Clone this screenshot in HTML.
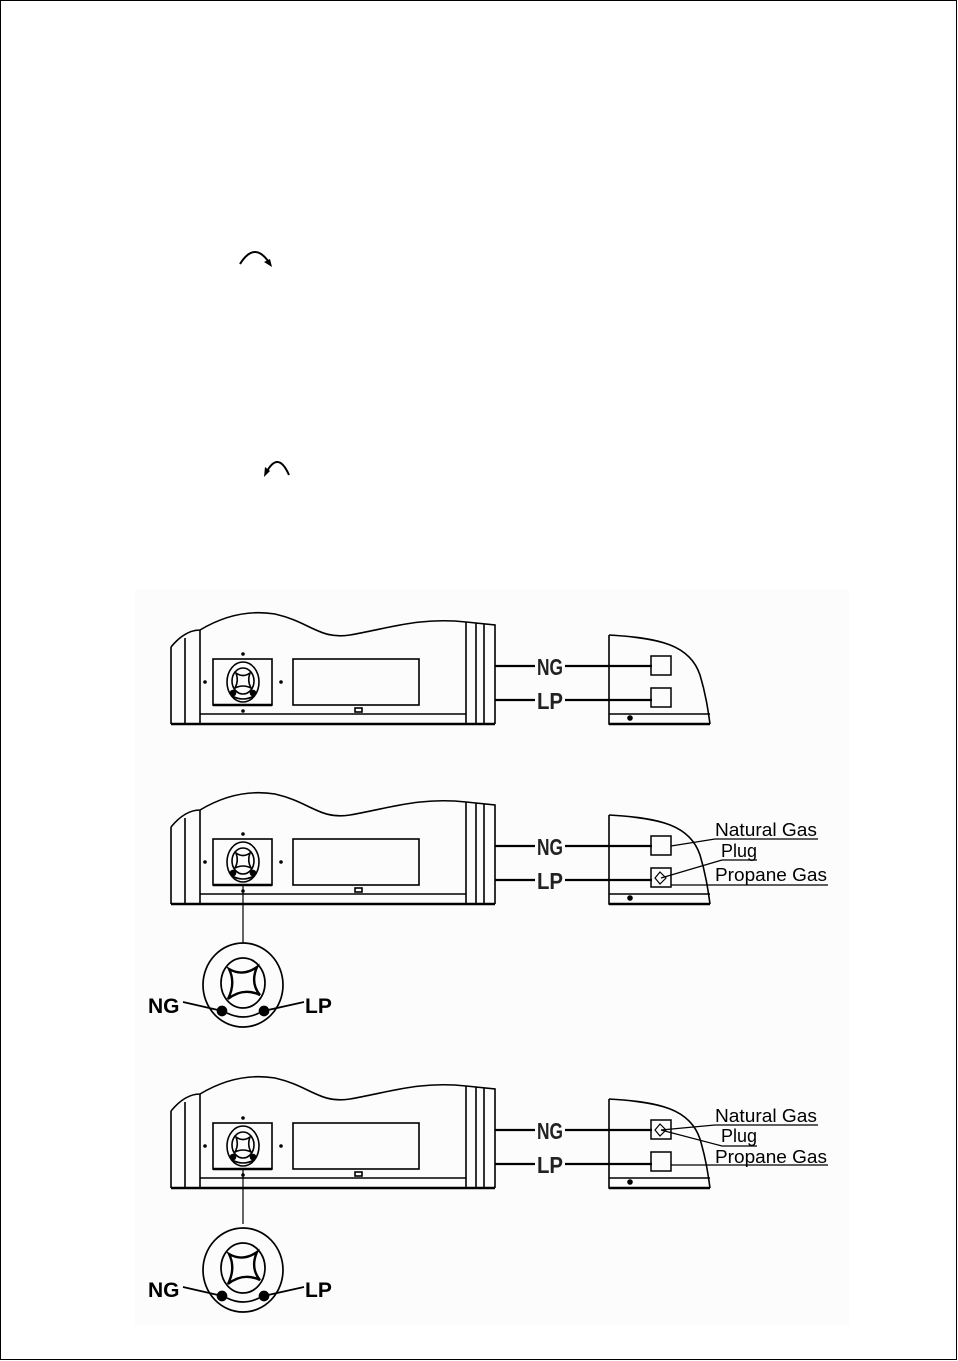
<!DOCTYPE html>
<html><head><meta charset="utf-8"><style>
html,body{margin:0;padding:0;background:#fff;}
svg{display:block;}
text{font-family:"Liberation Sans",sans-serif;}
</style></head><body>
<svg width="958" height="1361" viewBox="0 0 958 1361" xmlns="http://www.w3.org/2000/svg">
<rect x="0.5" y="0.5" width="956" height="1359" fill="#fff" stroke="#000" stroke-width="1"/>
<path d="M240,264 Q255,240 270,264" fill="none" stroke="#000" stroke-width="2"/>
<path d="M272,267 L264,262 L270,259 Z" fill="#000"/>
<path d="M289,475 Q278,450 266,473" fill="none" stroke="#000" stroke-width="2"/>
<path d="M264,477 L265,467 L270,471 Z" fill="#000"/>
<rect x="135" y="589" width="714" height="737" fill="#fcfcfc"/>
<defs>
<g id="unit" fill="none" stroke="#000" stroke-width="1.6">
  <path d="M171,647 L171,724 M185,638 L185,724 M200,630 L200,724"/>
  <path d="M171,647 Q185,630 200,630 C225,615 250,610 275,614 C310,622 320,640 350,635 C390,628 420,617 466,622"/>
  <path d="M466,622 L495,625 L495,724 M466,622 L466,724 M476,623 L476,724 M484,624 L484,724"/>
  <path d="M171,724 L495,724" stroke-width="2.4"/>
  <path d="M200,714 L466,714"/>
  <rect x="213" y="659" width="59" height="46"/>
  <path d="M213,705 L272,705" stroke-width="2.6"/>
  <rect x="293" y="659" width="126" height="46"/>
  <rect x="355" y="708" width="7" height="4"/>
  <ellipse cx="243" cy="682" rx="16" ry="20"/>
  <ellipse cx="243" cy="681" rx="11" ry="13"/>
  <path d="M236,673 Q243,678 250,673 Q247,681 251,688 Q243,684 235,688 Q239,681 236,673 Z"/>
  <path d="M232,696 Q243,702 254,696"/>
  <circle cx="233" cy="693" r="2.5" fill="#000"/><circle cx="253" cy="693" r="2.5" fill="#000"/>
  <circle cx="243" cy="654" r="1.8" fill="#000" stroke="none"/>
  <circle cx="205" cy="682" r="1.8" fill="#000" stroke="none"/>
  <circle cx="281" cy="682" r="1.8" fill="#000" stroke="none"/>
  <circle cx="243" cy="711" r="1.8" fill="#000" stroke="none"/>
  <path d="M495,666 L535,666 M565,666 L652,666 M495,700 L535,700 M565,700 L652,700" stroke-width="2.2"/>
  <path d="M609,635 L609,724 L710,724"/>
  <path d="M609,724 L710,724" stroke-width="2.4"/>
  <path d="M609,635 C660,638 690,645 700,675 C706,695 708,710 710,724"/>
  <path d="M609,714 L710,714"/>
  <circle cx="630" cy="718" r="2" fill="#000"/>
</g>
<g id="dial" fill="none" stroke="#000" stroke-width="1.7">
  <ellipse cx="243" cy="0" rx="40" ry="42"/>
  <ellipse cx="243" cy="-2" rx="22" ry="25"/>
  <path d="M229,-16 Q243,-8 257,-18 Q250,-2 260,10 Q243,2 228,14 Q236,-2 229,-16 Z" stroke-width="2.4"/>
  <path d="M227,28 Q243,36 259,28"/>
  <circle cx="222" cy="26" r="4.5" fill="#000"/><circle cx="264" cy="26" r="4.5" fill="#000"/>
  <path d="M183,17 L218,25 M268,25 L304,17"/>
</g>
<g id="lbl">
  <text x="537" y="675" font-size="23" textLength="26" lengthAdjust="spacingAndGlyphs" font-weight="bold" fill="#222">NG</text>
  <text x="537" y="709" font-size="23" textLength="26" lengthAdjust="spacingAndGlyphs" font-weight="bold" fill="#222">LP</text>
  <rect x="651" y="656" width="20" height="19" fill="none" stroke="#000" stroke-width="1.5"/>
  <rect x="651" y="688" width="20" height="19" fill="none" stroke="#000" stroke-width="1.5"/>
</g>
</defs>
<use href="#unit"/><use href="#lbl"/>
<g transform="translate(0,180)">
  <use href="#unit"/><use href="#lbl"/>
  <path d="M655,698 L660,692 L666,698 L660,704 Z" fill="none" stroke="#000" stroke-width="1.2"/>
  <path d="M243,705 L243,763" stroke="#000" stroke-width="1.2"/>
</g>
<g font-size="18" fill="#000">
  <text x="715" y="836" textLength="102" lengthAdjust="spacingAndGlyphs">Natural  Gas</text>
  <text x="721" y="857" textLength="36" lengthAdjust="spacingAndGlyphs">Plug</text>
  <text x="715" y="881" textLength="112" lengthAdjust="spacingAndGlyphs">Propane  Gas</text>
</g>
<path d="M715,839 L818,839 M671,846 L715,839 M722,860 L757,860 M661,878 L722,860 M671,885 L828,885" stroke="#000" stroke-width="1.2" fill="none"/>
<g transform="translate(0,985)"><use href="#dial"/></g>
<text x="148" y="1013" font-size="21" font-weight="bold">NG</text>
<text x="305" y="1013" font-size="21" font-weight="bold">LP</text>
<g transform="translate(0,464)">
  <use href="#unit"/><use href="#lbl"/>
  <path d="M655,666 L660,660 L666,666 L660,672 Z" fill="none" stroke="#000" stroke-width="1.2"/>
  <path d="M243,705 L243,760" stroke="#000" stroke-width="1.2"/>
</g>
<g font-size="18" fill="#000">
  <text x="715" y="1122" textLength="102" lengthAdjust="spacingAndGlyphs">Natural  Gas</text>
  <text x="721" y="1142" textLength="36" lengthAdjust="spacingAndGlyphs">Plug</text>
  <text x="715" y="1163" textLength="112" lengthAdjust="spacingAndGlyphs">Propane  Gas</text>
</g>
<path d="M715,1125 L818,1125 M661,1130 L715,1125 M722,1146 L757,1146 M661,1130 L722,1146 M671,1165 L828,1165" stroke="#000" stroke-width="1.2" fill="none"/>
<g transform="translate(0,1270)"><use href="#dial"/></g>
<text x="148" y="1297" font-size="21" font-weight="bold">NG</text>
<text x="305" y="1297" font-size="21" font-weight="bold">LP</text>
</svg>
</body></html>
